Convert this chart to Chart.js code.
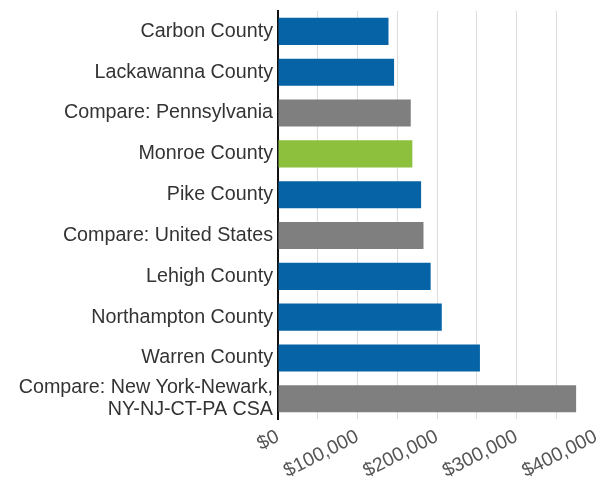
<!DOCTYPE html>
<html>
<head>
<meta charset="utf-8">
<script src="https://cdn.jsdelivr.net/npm/chart.js@4/dist/chart.umd.min.js"></script>
<style>
    html, body { margin: 0; padding: 0; background: #fff; }
    #wrap { width: 596px; height: 489px; }
</style>
</head>
<body>
<div id="wrap"><canvas id="incomeChart"></canvas></div>
<script>
const places = [
    'Carbon County',
    'Lackawanna County',
    'Compare: Pennsylvania',
    'Monroe County',
    'Pike County',
    'Compare: United States',
    'Lehigh County',
    'Northampton County',
    'Warren County',
    ['Compare: New York-Newark,', 'NY-NJ-CT-PA CSA'],
];
const values = [139000, 146000, 167000, 169000, 180000, 183000, 192000, 206000, 254000, 375000];
const kinds = ['county', 'county', 'compare', 'focus', 'county', 'compare', 'county', 'county', 'county', 'compare'];
const tickValues = [0, 100000, 200000, 300000, 400000];

const colorFor = { county: '#0563a6', compare: '#7f7f7f', focus: '#8dc03d' };

var ctx = document.getElementById('incomeChart').getContext('2d');
// eslint-disable-next-line no-undef
new Chart(ctx, {
    type: 'bar',
    data: {
        labels: places,
        datasets: [
            {
                data: values,
                backgroundColor: kinds.map((k) => colorFor[k]),
                borderWidth: 0,
                categoryPercentage: 0.82,
                barPercentage: 0.81,
            },
        ],
    },
    options: {
        indexAxis: 'y',
        responsive: true,
        maintainAspectRatio: false,
        animation: false,
        layout: { padding: { top: 11, right: 0, left: 0, bottom: 0 } },
        plugins: { legend: { display: false }, tooltip: { enabled: false } },
        scales: {
            x: {
                min: 0,
                max: 400000,
                afterFit: (scale) => {
                    // let the last tick sit right at the canvas edge
                    scale.paddingRight = 0;
                    scale.paddingLeft = 0;
                },
                ticks: {
                    stepSize: 50000,
                    autoSkip: false,
                    minRotation: 27,
                    maxRotation: 27,
                    color: '#555',
                    padding: 6,
                    font: { family: 'Liberation Sans, Arial', size: 19.5 },
                    callback: (v) => (tickValues.includes(v) ? '$' + v.toLocaleString('en-US') : ''),
                },
                grid: { color: '#dddddd', lineWidth: 1, drawTicks: false },
                border: { display: false },
            },
            y: {
                afterFit: (scale) => {
                    scale.width = 278;
                    scale.paddingTop = 0;
                    scale.paddingBottom = 0;
                },
                ticks: {
                    autoSkip: false,
                    color: '#333',
                    padding: 5,
                    font: { family: 'Liberation Sans, Arial', size: 19.7, lineHeight: 1.1 },
                },
                grid: { display: false, drawTicks: false },
                border: { display: true, color: '#111', width: 2 },
            },
        },
    },
});
</script>
</body>
</html>
